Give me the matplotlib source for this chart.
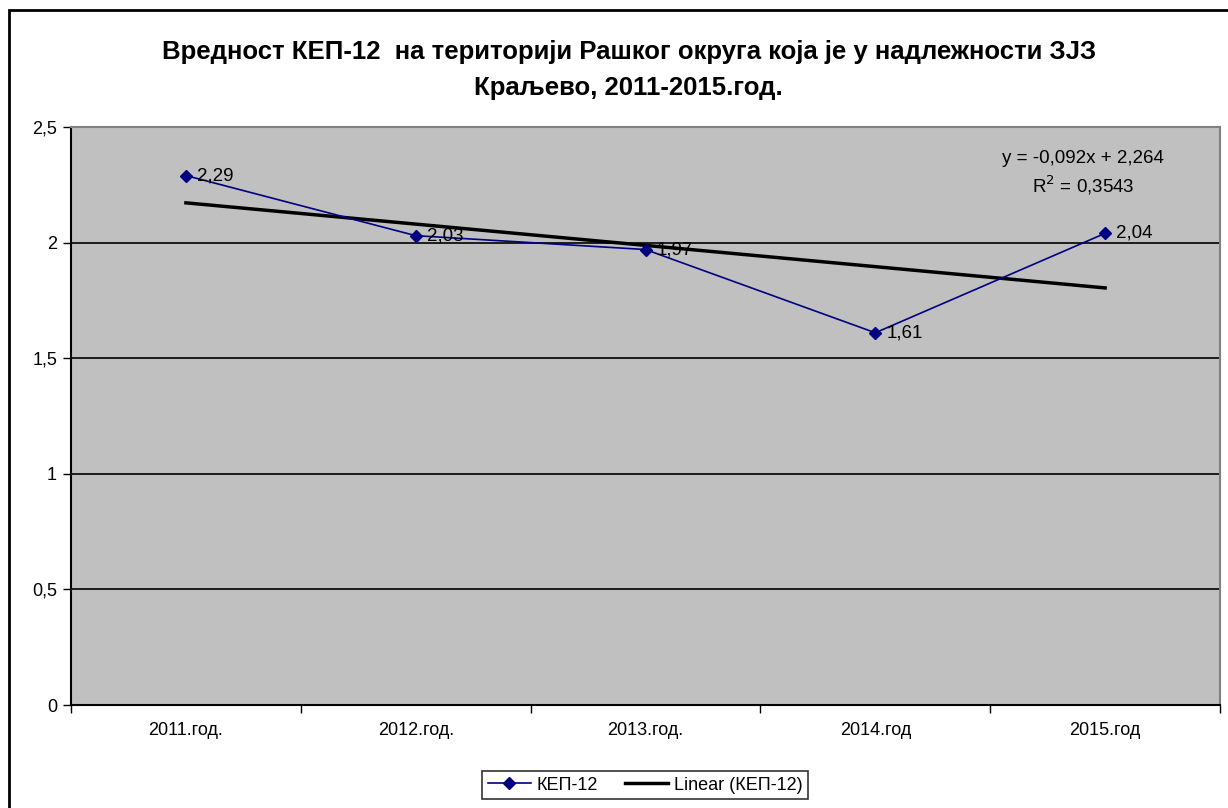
import numpy as np
import matplotlib.pyplot as plt
from matplotlib.patches import Rectangle

plt.rcParams['font.family'] = ['Liberation Sans', 'DejaVu Sans']

godine = ['2011.год.', '2012.год.', '2013.год.', '2014.год', '2015.год']
kep12 = [2.29, 2.03, 1.97, 1.61, 2.04]
naslov = 'Вредност КЕП-12  на територији Рашког округа која је у надлежности ЗЈЗ\nКраљево, 2011-2015.год.'

W, H = 1228, 808
fig = plt.figure(figsize=(W / 100, H / 100), dpi=100)

# outer chart frame (only left and top visible)
fig.add_artist(Rectangle((9 / W, -0.1), 1.2, 1 - 10 / H + 0.1,
                         transform=fig.transFigure, fill=False,
                         edgecolor='black', linewidth=2))

ax = fig.add_axes([71 / W, 1 - 705 / H, (1220 - 71) / W, (705 - 127) / H])
ax.set_facecolor('#c0c0c0')

x = np.arange(len(kep12))
ax.plot(x, kep12, color='#000080', linewidth=1.2, marker='D', markersize=6.5,
        label='КЕП-12', zorder=3)

# linear trend on x = 1..5 (Excel style)
xs = x + 1
k, n = np.polyfit(xs, kep12, 1)
r2 = np.corrcoef(xs, kep12)[0, 1] ** 2
ax.plot(x, k * xs + n, color='black', linewidth=2.5, label='Linear (КЕП-12)', zorder=2)

for xi, v in zip(x, kep12):
    ax.annotate(f'{v:.2f}'.replace('.', ','), (xi, v), xytext=(8, 0),
                textcoords='offset points', va='center', ha='left', fontsize=13.5)

ax.text(0.881, 0.945, f'y = {k:.3f}x + {n:.3f}'.replace('.', ','),
        transform=ax.transAxes, ha='center', va='center', fontsize=13.5)
ax.text(0.881, 0.9, f'R$^2$ = {r2:.4f}'.replace('.', ','),
        transform=ax.transAxes, ha='center', va='center', fontsize=13.5)

ax.set_xlim(-0.5, len(kep12) - 0.5)
ax.set_ylim(0, 2.5)
ax.set_yticks([0, 0.5, 1, 1.5, 2, 2.5])
ax.set_yticklabels(['0', '0,5', '1', '1,5', '2', '2,5'], fontsize=13)
ax.yaxis.grid(True, color='black', linewidth=1.2)
ax.set_axisbelow(True)

ax.set_xticks(x)
ax.set_xticklabels(godine, fontsize=13)
ax.tick_params(axis='x', length=0, pad=12)
ax.set_xticks(np.arange(-0.5, len(kep12)), minor=True)
ax.tick_params(axis='x', which='minor', length=6, direction='out', width=1)
ax.tick_params(axis='y', length=6, direction='out', width=1, pad=4)

for s in ['left', 'bottom']:
    ax.spines[s].set_linewidth(1.5)
    ax.spines[s].set_color('black')
for s in ['top', 'right']:
    ax.spines[s].set_linewidth(1.5)
    ax.spines[s].set_color('#808080')

fig.text(0.512, 1 - 70 / H, naslov, ha='center', va='center', fontsize=18.5,
         fontweight='bold', linespacing=1.6)

leg = fig.legend(loc='center', bbox_to_anchor=(645 / W, 1 - 785 / H), ncol=2,
                 fontsize=13, frameon=True, fancybox=False, edgecolor='black',
                 handlelength=2.4, columnspacing=1.5, borderpad=0.3, handletextpad=0.3)
leg.get_frame().set_linewidth(1.2)

fig.savefig('out.png', dpi=100)
